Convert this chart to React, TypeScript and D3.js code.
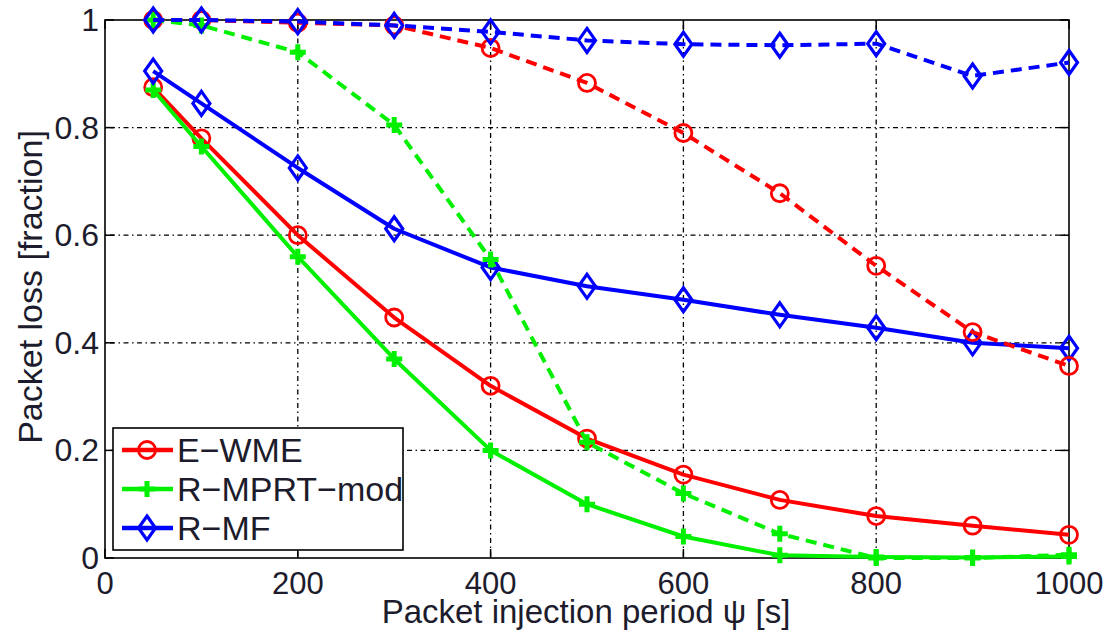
import React from "react";
import * as d3 from "d3";

// packet injection period (s)
const periods = [50, 100, 200, 300, 400, 500, 600, 700, 800, 900, 1000];

// packet loss fraction, solid = first scenario, dashed = second scenario
const ewmeSolid = [0.875, 0.78, 0.6, 0.447, 0.32, 0.222, 0.155, 0.108, 0.078, 0.06, 0.043];
const ewmeDashed = [1.0, 1.0, 0.995, 0.99, 0.948, 0.883, 0.79, 0.678, 0.543, 0.42, 0.357];
const mprtSolid = [0.87, 0.765, 0.56, 0.37, 0.2, 0.1, 0.04, 0.005, 0.002, 0.001, 0.003];
const mprtDashed = [1.0, 0.99, 0.94, 0.805, 0.555, 0.215, 0.12, 0.045, 0.0, 0.0, 0.006];
const mfSolid = [0.905, 0.845, 0.725, 0.612, 0.54, 0.505, 0.48, 0.452, 0.428, 0.4, 0.39];
const mfDashed = [1.0, 1.0, 0.997, 0.99, 0.978, 0.962, 0.955, 0.953, 0.956, 0.896, 0.921];

const xTicks = [0, 200, 400, 600, 800, 1000];
const yTicks = [0, 0.2, 0.4, 0.6, 0.8, 1];
const yTickLabels = ["0", "0.2", "0.4", "0.6", "0.8", "1"];

const legendNames = ["E\u2212WME", "R\u2212MPRT\u2212mod", "R\u2212MF"];

const RED = "#ff0000";
const GREEN = "#00f000";
const BLUE = "#0000ff";

const series = [
  { values: ewmeSolid, color: RED, marker: "o", dashed: false },
  { values: mprtSolid, color: GREEN, marker: "+", dashed: false },
  { values: mfSolid, color: BLUE, marker: "d", dashed: false },
  { values: ewmeDashed, color: RED, marker: "o", dashed: true },
  { values: mprtDashed, color: GREEN, marker: "+", dashed: true },
  { values: mfDashed, color: BLUE, marker: "d", dashed: true },
];

const W = 1107;
const H = 633;
const left = 105, right = 1069, top = 20, bottom = 558;
const FONT = "'Liberation Sans', Arial, sans-serif";
const TEXT = "#1c1c2c";

function Marker({ type, x, y, color }: { type: string; x: number; y: number; color: string }) {
  if (type === "o") {
    return <circle cx={x} cy={y} r={8.5} fill="none" stroke={color} strokeWidth={2.8} />;
  }
  if (type === "+") {
    return (
      <path
        d={`M${x - 8},${y}H${x + 8}M${x},${y - 8}V${y + 8}`}
        stroke={color}
        strokeWidth={5}
        fill="none"
      />
    );
  }
  return (
    <path
      d={`M${x},${y - 12}L${x + 8.5},${y}L${x},${y + 12}L${x - 8.5},${y}Z`}
      fill="none"
      stroke={color}
      strokeWidth={3.2}
    />
  );
}

export default function App() {
  const x = d3.scaleLinear().domain([0, 1000]).range([left, right]);
  const y = d3.scaleLinear().domain([0, 1]).range([bottom, top]);
  const line = d3
    .line<number>()
    .x((_, i) => x(periods[i]))
    .y((d) => y(d));

  const gridDash = "1.5,3.5,5,3.5";

  return (
    <svg width={W} height={H} style={{ position: "absolute", left: 0, top: 0, background: "#fff" }}>
      <rect width={W} height={H} fill="#fff" />
      {/* grid */}
      {xTicks.slice(1, -1).map((t) => (
        <line key={"gx" + t} x1={x(t)} x2={x(t)} y1={top} y2={bottom} stroke="#000" strokeWidth={1.3} strokeDasharray={gridDash} />
      ))}
      {yTicks.slice(1, -1).map((t) => (
        <line key={"gy" + t} x1={left} x2={right} y1={y(t)} y2={y(t)} stroke="#000" strokeWidth={1.3} strokeDasharray={gridDash} />
      ))}
      {/* ticks */}
      {xTicks.map((t) => (
        <g key={"tx" + t}>
          <line x1={x(t)} x2={x(t)} y1={bottom} y2={bottom - 9} stroke="#000" strokeWidth={1.5} />
          <line x1={x(t)} x2={x(t)} y1={top} y2={top + 9} stroke="#000" strokeWidth={1.5} />
          <text x={x(t)} y={594} textAnchor="middle" fontFamily={FONT} fontSize={31} fill={TEXT}>
            {t}
          </text>
        </g>
      ))}
      {yTicks.map((t, i) => (
        <g key={"ty" + t}>
          <line x1={left} x2={left + 9} y1={y(t)} y2={y(t)} stroke="#000" strokeWidth={1.5} />
          <line x1={right} x2={right - 9} y1={y(t)} y2={y(t)} stroke="#000" strokeWidth={1.5} />
          <text x={99} y={y(t) + 11} textAnchor="end" fontFamily={FONT} fontSize={32} fill={TEXT}>
            {yTickLabels[i]}
          </text>
        </g>
      ))}
      <rect x={left} y={top} width={right - left} height={bottom - top} fill="none" stroke="#000" strokeWidth={1.6} />
      {/* series */}
      {series.map((s, k) => (
        <g key={"s" + k}>
          <path
            d={line(s.values) || ""}
            fill="none"
            stroke={s.color}
            strokeWidth={4}
            strokeDasharray={s.dashed ? "11,7" : undefined}
            strokeLinejoin="round"
          />
          {s.values.map((v, i) => (
            <Marker key={i} type={s.marker} x={x(periods[i])} y={y(v)} color={s.color} />
          ))}
        </g>
      ))}
      {/* axis titles */}
      <text x={586} y={623} textAnchor="middle" fontFamily={FONT} fontSize={33} fill={TEXT}>
        Packet injection period ψ [s]
      </text>
      <text
        transform="translate(42,287) rotate(-90)"
        textAnchor="middle"
        fontFamily={FONT}
        fontSize={34}
        fill={TEXT}
      >
        Packet loss [fraction]
      </text>
      {/* legend */}
      <g>
        <rect x={113} y={428} width={290} height={122} fill="#fff" stroke="#000" strokeWidth={1.6} />
        {legendNames.map((name, i) => {
          const s = series[i];
          const ly = 450 + i * 39;
          return (
            <g key={name}>
              <line x1={122} x2={173} y1={ly} y2={ly} stroke={s.color} strokeWidth={4.5} />
              <Marker type={s.marker} x={147} y={ly} color={s.color} />
              <text x={177} y={ly + 12} fontFamily={FONT} fontSize={34} fill={TEXT}>
                {name}
              </text>
            </g>
          );
        })}
      </g>
    </svg>
  );
}
